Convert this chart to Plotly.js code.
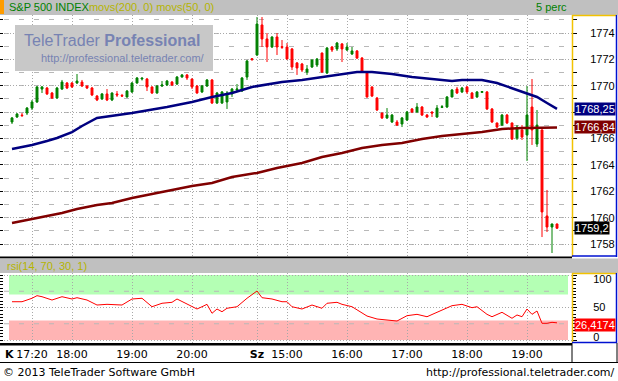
<!DOCTYPE html>
<html>
<head>
<meta charset="utf-8">
<script src="https://cdn.plot.ly/plotly-3.0.1.min.js"></script>
<style>html,body{margin:0;padding:0;background:#fff;}#chart{width:618px;height:381px;}</style>
</head>
<body>
<div id="chart"></div>
<script>
// ---- DATA (5-minute candles, index 0 = Tue 17:00 ... index 109 = Wed 19:30) ----
const openP = [1767.25,1767.63,1767.78,1767.93,1768.31,1768.77,1769.75,1769.83,1769.45,1769.07,
1769.75,1770.21,1770.21,1770.21,1770.28,1769.98,1769.83,1769.22,1769.00,1769.38,
1768.92,1769.38,1769.27,1769.15,1769.53,1770.21,1770.51,1770.51,1769.91,1769.45,
1769.98,1770.06,1770.28,1770.13,1770.66,1770.82,1770.51,1769.98,1769.53,1769.98,
1770.44,1768.69,1768.69,1768.77,1769.38,1769.68,1769.60,1770.66,1772.05,1772.33,
1774.61,1773.55,1772.94,1773.70,1772.97,1772.94,1772.79,1771.73,1771.65,1771.04,
1771.42,1771.57,1772.48,1770.97,1772.94,1772.79,1773.17,1772.71,1772.41,1772.64,
1772.10,1770.97,1769.91,1769.07,1767.93,1767.56,1767.25,1767.25,1767.10,1767.40,
1768.24,1768.01,1768.39,1767.78,1768.01,1767.63,1768.36,1768.39,1769.15,1769.75,
1769.53,1769.91,1769.45,1769.15,1769.50,1769.53,1768.24,1767.18,1767.02,1767.78,
1767.18,1766.04,1766.65,1766.27,1768.39,1765.58,1766.65,1760.13,1759.29,1759.52];
const highP = [1767.63,1767.93,1767.93,1768.39,1768.92,1769.98,1769.98,1769.91,1769.53,1769.91,
1770.44,1770.28,1770.28,1770.89,1770.44,1770.06,1769.91,1769.30,1769.45,1769.75,
1769.50,1769.60,1769.38,1769.68,1770.28,1770.66,1770.62,1770.59,1769.95,1770.06,
1770.36,1770.44,1770.36,1770.74,1770.89,1770.89,1770.55,1770.06,1770.06,1770.51,
1770.51,1769.53,1769.60,1769.60,1769.83,1770.13,1770.66,1771.95,1772.10,1775.21,
1775.21,1774.00,1773.75,1774.00,1773.47,1773.24,1772.86,1771.80,1771.73,1771.57,
1772.03,1772.10,1772.52,1772.94,1773.01,1773.32,1773.24,1773.24,1772.94,1772.71,
1772.18,1771.04,1769.95,1769.15,1767.96,1768.31,1767.86,1767.40,1767.63,1768.09,
1768.31,1768.69,1768.46,1767.86,1768.05,1768.54,1768.54,1769.22,1769.75,1769.91,
1769.91,1769.98,1769.53,1769.60,1769.60,1769.60,1768.31,1767.20,1767.86,1767.86,
1767.20,1767.02,1767.02,1769.98,1770.51,1768.16,1766.70,1762.10,1759.55,1759.55];
const lowP = [1767.10,1767.56,1767.63,1767.78,1768.16,1768.70,1769.45,1769.30,1769.00,1769.00,
1769.68,1769.75,1769.83,1770.13,1769.91,1769.75,1769.22,1768.84,1768.92,1768.84,
1768.84,1769.15,1769.15,1769.10,1769.45,1770.15,1770.40,1769.60,1769.38,1769.40,
1769.91,1769.98,1769.98,1770.06,1770.62,1770.44,1769.75,1769.40,1769.45,1769.91,
1768.62,1768.62,1768.62,1768.24,1769.15,1769.60,1769.53,1770.44,1771.88,1772.26,
1772.94,1771.80,1772.86,1772.33,1772.79,1771.98,1771.19,1770.82,1771.04,1770.82,
1771.35,1771.42,1770.97,1770.89,1772.56,1772.64,1771.80,1772.64,1772.33,1772.03,
1770.97,1769.10,1769.15,1768.09,1767.48,1767.48,1767.18,1766.95,1766.87,1767.33,
1767.93,1767.93,1767.71,1767.56,1767.63,1767.56,1768.31,1768.31,1769.12,1769.38,
1769.45,1769.38,1769.00,1769.07,1769.45,1768.16,1767.18,1766.80,1766.95,1767.10,
1765.89,1765.89,1765.89,1764.30,1765.51,1765.36,1758.53,1758.91,1757.32,1759.15];
const closeP = [1767.56,1767.86,1767.74,1768.31,1768.77,1769.91,1769.91,1769.38,1769.07,1769.83,
1770.28,1769.83,1769.91,1770.36,1769.98,1769.83,1769.30,1768.92,1769.38,1768.92,
1769.45,1769.30,1769.22,1769.60,1770.21,1770.59,1770.58,1769.91,1769.45,1769.98,
1770.06,1770.36,1770.06,1770.66,1770.82,1770.59,1769.91,1769.45,1769.98,1770.44,
1768.69,1769.45,1769.53,1769.45,1769.75,1769.75,1770.59,1771.88,1772.00,1774.68,
1773.55,1772.94,1773.70,1772.94,1772.91,1772.03,1771.42,1771.35,1771.19,1771.27,
1771.95,1772.03,1771.04,1772.86,1772.71,1773.24,1772.79,1772.94,1772.64,1772.10,
1771.04,1769.15,1769.22,1768.16,1767.56,1767.78,1767.78,1767.02,1767.56,1768.01,
1768.01,1768.39,1767.78,1767.63,1767.93,1768.31,1768.41,1769.15,1769.68,1769.45,
1769.83,1769.53,1769.07,1769.53,1769.56,1768.24,1767.25,1766.87,1767.78,1767.18,
1765.96,1766.87,1766.11,1767.78,1766.65,1767.02,1760.43,1759.29,1759.52,1759.20];

// moving averages, read at candle indexes
const ma50Idx = [0,4,7,9,12,14,17,24,31,36,40,44,48,54,58,61,64,67,69,72,76,80,84,88,90,94,97,100,103,105,107,109];
const ma50Val = [1765.21,1765.51,1765.81,1766.04,1766.49,1766.95,1767.56,1767.93,1768.39,1768.77,1769.15,1769.45,1769.91,1770.29,1770.44,1770.59,1770.74,1770.89,1771.04,1771.04,1770.89,1770.66,1770.51,1770.36,1770.44,1770.44,1770.21,1769.83,1769.45,1769.15,1768.69,1768.25];
const ma200Idx = [0,4,7,10,13,17,20,24,28,32,36,40,44,49,53,58,62,66,70,74,78,82,86,90,94,98,102,106,109];
const ma200Val = [1759.59,1759.90,1760.13,1760.35,1760.66,1760.96,1761.11,1761.49,1761.79,1762.10,1762.40,1762.63,1763.08,1763.39,1763.77,1764.14,1764.60,1764.90,1765.28,1765.51,1765.66,1765.96,1766.19,1766.34,1766.49,1766.72,1766.80,1766.82,1766.84];

// RSI(14)
const rsiIdx = [0,2,4,5,6,8,10,12,13,15,17,19,22,24,26,28,30,32,33,35,37,38,39,40,41,42,43,45,47,49,50,52,54,55,56,58,59,60,62,63,65,66,68,71,73,76,77,79,81,83,85,88,90,92,93,95,96,98,100,101,102,103,104,105,106,107,108,109];
const rsiVal = [58.9,58.9,64.2,68.2,66.6,61.5,66.6,63.1,65.1,61.5,53.8,54.9,53.8,63.1,64.2,51.2,56.5,58.0,63.1,54.9,47.7,51.2,54.9,41.1,47.7,43.5,48.8,51.2,64.2,75.4,65.1,63.1,58.9,58.9,51.2,47.7,51.2,53.8,48.8,56.5,58.0,54.9,51.2,36.9,32.3,30.8,29.2,37.4,39.5,35.8,42.6,52.8,54.9,49.7,51.2,39.5,35.8,42.6,33.4,38.5,35.8,47.7,39.5,44.6,25.7,25.7,27.2,26.4174];

// axes labels
const tickIdx  = [4,12,24,36,49,55,67,79,91,103];
const tickText = ['17:20','18:00','19:00','20:00','<b>Sz</b>','15:00','16:00','17:00','18:00','19:00'];
const priceTicks = [1758,1760,1762,1764,1766,1768,1770,1772,1774];
const priceText  = ['1758','1760','1762','1764','1766','','1770','1772','1774']; // 1768 sits under the MA50 box
const rsiTicks = [0,50,100];
const rsiText  = ['0','50','100'];

const lastLabels = {ma50:'1768,25', ma200:'1766,84', last:'1759,2', rsi:'26,4174'};

// ---- LAYOUT HELPERS (pixel -> paper) ----
const W = 618, H = 381;
const fx = p => p / W;
const fy = p => 1 - p / H;
const idx = closeP.map((_, i) => i);

const GRID = '#a8a8a8';
const YEL = '#f2c200';
const BLU = '#0010d0';

function rect(x0, y0, x1, y1, color, layer) {
  return {type:'rect', xref:'paper', yref:'paper', x0:fx(x0), x1:fx(x1), y0:fy(y1), y1:fy(y0),
          fillcolor:color, line:{width:0}, layer: layer || 'above'};
}
function line(x0, y0, x1, y1, color, w) {
  return {type:'line', xref:'paper', yref:'paper', x0:fx(x0), x1:fx(x1), y0:fy(y0), y1:fy(y1),
          line:{color:color, width:w || 1}, layer:'above'};
}

const traces = [
  {type:'candlestick', x:idx, open:openP, high:highP, low:lowP, close:closeP, xaxis:'x', yaxis:'y',
   increasing:{line:{color:'#008000', width:1}, fillcolor:'#008000'},
   decreasing:{line:{color:'#ff0000', width:1}, fillcolor:'#ff0000'},
   whiskerwidth:0, hoverinfo:'skip'},
  {type:'scatter', mode:'lines', x:ma200Idx, y:ma200Val, xaxis:'x', yaxis:'y', line:{color:'#800000', width:2.5}, hoverinfo:'skip'},
  {type:'scatter', mode:'lines', x:ma50Idx, y:ma50Val, xaxis:'x', yaxis:'y', line:{color:'#000080', width:2.5}, hoverinfo:'skip'},
  {type:'scatter', mode:'lines', x:rsiIdx, y:rsiVal, xaxis:'x', yaxis:'y2', line:{color:'#ff0000', width:1}, hoverinfo:'skip'}
];

const shapes = [
  // RSI bands
  {type:'rect', xref:'x', yref:'y2', x0:-0.6, x1:111.2, y0:70, y1:100, fillcolor:'#b4ffb4', line:{width:0}, layer:'below'},
  {type:'rect', xref:'x', yref:'y2', x0:-0.6, x1:111.2, y0:0, y1:30, fillcolor:'#ffb4b4', line:{width:0}, layer:'below'},
  {type:'line', xref:'x', yref:'y2', x0:-1.6, x1:112, y0:75, y1:75, line:{color:'#b8b8b8', width:1, dash:'5px,10px'}, layer:'below'},
  {type:'line', xref:'x', yref:'y2', x0:-1.6, x1:112, y0:25, y1:25, line:{color:'#b8b8b8', width:1, dash:'5px,10px'}, layer:'below'},
  // header bar
  rect(0, 0, 618, 15, '#c0c0c0'),
  rect(0, 0, 4, 14, '#ff9c00'),
  // watermark box
  rect(15, 25, 213, 71, '#c8c8c8'),
  // main axis panel frame
  line(572.5, 15, 572.5, 257, YEL, 1.5),
  line(572, 15.5, 617, 15.5, YEL, 1.5),
  line(616.5, 15, 616.5, 257, BLU, 1.5),
  line(572, 256, 617, 256, BLU, 1.5),
  // separator + RSI header
  rect(0, 256.5, 572, 258.5, '#000000'),
  rect(0, 258.5, 618, 273, '#c0c0c0'),
  // RSI axis panel frame
  line(572.5, 273, 572.5, 343, YEL, 1.5),
  line(572, 273.5, 617, 273.5, YEL, 1.5),
  line(616.5, 273, 616.5, 343, BLU, 1.5),
  line(572, 342.5, 617, 342.5, BLU, 1.5),
  // bottom frame / time row
  rect(0, 343, 572, 345.5, '#000000'),
  line(0, 362.5, 618, 362.5, '#000000', 1),
  line(572, 343, 572, 363, '#000000', 1),
  line(617, 343, 617, 363, '#000000', 1)
];

const F = 'Liberation Sans, Arial, sans-serif';
const annotations = [
  {xref:'paper', yref:'paper', x:fx(7), y:fy(7.5), xanchor:'left', yanchor:'middle', showarrow:false,
   text:'<span style="color:#008000">S&amp;P 500 INDEX</span><span style="color:#b4b400">movs(200, 0) movs(50, 0)</span>',
   font:{family:F, size:11}},
  {xref:'paper', yref:'paper', x:fx(569), y:fy(7.5), xanchor:'right', yanchor:'middle', showarrow:false,
   text:'5 perc', font:{family:F, size:11, color:'#008000'}},
  {xref:'paper', yref:'paper', x:fx(5), y:fy(266), xanchor:'left', yanchor:'middle', showarrow:false,
   text:'rsi(14, 70, 30, 1)', font:{family:F, size:11, color:'#b4b400'}},
  // watermark
  {xref:'paper', yref:'paper', x:fx(112), y:fy(41), xanchor:'center', yanchor:'middle', showarrow:false,
   text:'TeleTrader <b>Professional</b>', font:{family:F, size:16, color:'#7783b3'}},
  {xref:'paper', yref:'paper', x:fx(123), y:fy(58), xanchor:'center', yanchor:'middle', showarrow:false,
   text:'http://professional.teletrader.com/', font:{family:F, size:11, color:'#7783b3'}},
  // last value boxes
  {xref:'paper', yref:'y', x:fx(573.5), y:ma50Val[ma50Val.length-1], xanchor:'left', yanchor:'middle', showarrow:false,
   text:lastLabels.ma50, bgcolor:'#000080', borderpad:0, font:{family:F, size:11, color:'#ffffff'}},
  {xref:'paper', yref:'y', x:fx(573.5), y:ma200Val[ma200Val.length-1], xanchor:'left', yanchor:'middle', showarrow:false,
   text:lastLabels.ma200, bgcolor:'#800000', borderpad:0, font:{family:F, size:11, color:'#ffffff'}},
  {xref:'paper', yref:'y', x:fx(573.5), y:closeP[closeP.length-1], xanchor:'left', yanchor:'middle', showarrow:false,
   text:lastLabels.last, bgcolor:'#000000', borderpad:0, font:{family:F, size:11, color:'#ffffff'}},
  {xref:'paper', yref:'y2', x:fx(573.5), y:rsiVal[rsiVal.length-1] - 3, xanchor:'left', yanchor:'middle', showarrow:false,
   text:lastLabels.rsi, bgcolor:'#ff0000', borderpad:0, font:{family:F, size:11, color:'#ffffff'}},
  // day label
  {xref:'paper', yref:'paper', x:fx(3), y:fy(354), xanchor:'left', yanchor:'middle', showarrow:false,
   text:'<b>K</b>', font:{family:'DejaVu Sans, sans-serif', size:11, color:'#000'}},
  // footer
  {xref:'paper', yref:'paper', x:fx(1), y:fy(372), xanchor:'left', yanchor:'middle', showarrow:false,
   text:'© 2013 TeleTrader Software GmbH', font:{family:'DejaVu Sans, sans-serif', size:11, color:'#000'}},
  {xref:'paper', yref:'paper', x:fx(617), y:fy(372), xanchor:'right', yanchor:'middle', showarrow:false,
   text:'http://professional.teletrader.com/', font:{family:'DejaVu Sans, sans-serif', size:11, color:'#000'}}
];

const RSI_RANGE = [-4.615, 103.08];
const layout = {
  width:W, height:H, margin:{l:0, r:0, t:0, b:0},
  paper_bgcolor:'#ffffff', plot_bgcolor:'rgba(0,0,0,0)', showlegend:false, boxgap:0.45,
  font:{family:F, size:11, color:'#000'},
  xaxis:{domain:[fx(4), fx(572)], range:[-1.6, 112], anchor:'y2', tickmode:'array', tickvals:tickIdx, ticktext:tickText,
         ticks:'', showgrid:true, gridcolor:GRID, griddash:'1px,2px', gridwidth:1, zeroline:false, showline:false,
         rangeslider:{visible:false}, fixedrange:true, ticklabelstandoff:3,
         tickfont:{family:'DejaVu Sans, sans-serif', size:11, color:'#000'}},
  yaxis:{domain:[fy(257), fy(15)], range:[1757.017, 1775.365], side:'right', anchor:'x',
         tickmode:'array', tickvals:priceTicks, ticktext:priceText,
         ticks:'outside', ticklen:4, tickcolor:'#000', tickwidth:1, mirror:'ticks', showline:false,
         showgrid:true, gridcolor:GRID, griddash:'1px,2px', zeroline:false, fixedrange:true, ticklabelstandoff:11,
         minor:{dtick:1, ticks:'outside', ticklen:4, tickcolor:'#000', showgrid:true, gridcolor:'#b8b8b8', griddash:'5px,10px'},
         tickfont:{family:F, size:11, color:'#000'}},
  yaxis2:{domain:[fy(343), fy(273)], range:RSI_RANGE, side:'right', anchor:'x', tickvals:rsiTicks, ticktext:rsiText,
          ticks:'outside', ticklen:4, tickcolor:'#000', mirror:'ticks', showline:false, ticklabelshift:0,
          showgrid:true, gridcolor:GRID, griddash:'1px,2px', zeroline:false, fixedrange:true, ticklabelstandoff:14,
          minor:{dtick:5, tick0:0, ticks:'outside', ticklen:3, tickcolor:'#000', showgrid:false},
          tickfont:{family:F, size:11, color:'#000'}},
  shapes:shapes,
  annotations:annotations
};

Plotly.newPlot('chart', traces, layout, {staticPlot:true, displayModeBar:false}).then(function(){
  // nudge the edge RSI labels inward like the reference (100 lower, 0 higher)
  const labels = document.querySelectorAll('.y2tick text');
  labels.forEach(function(t){
    const s = t.textContent;
    if (s === '100') t.setAttribute('transform', (t.getAttribute('transform')||'') + ' translate(0,4)');
    if (s === '0') t.setAttribute('transform', (t.getAttribute('transform')||'') + ' translate(0,-3)');
  });
});
</script>
</body>
</html>
